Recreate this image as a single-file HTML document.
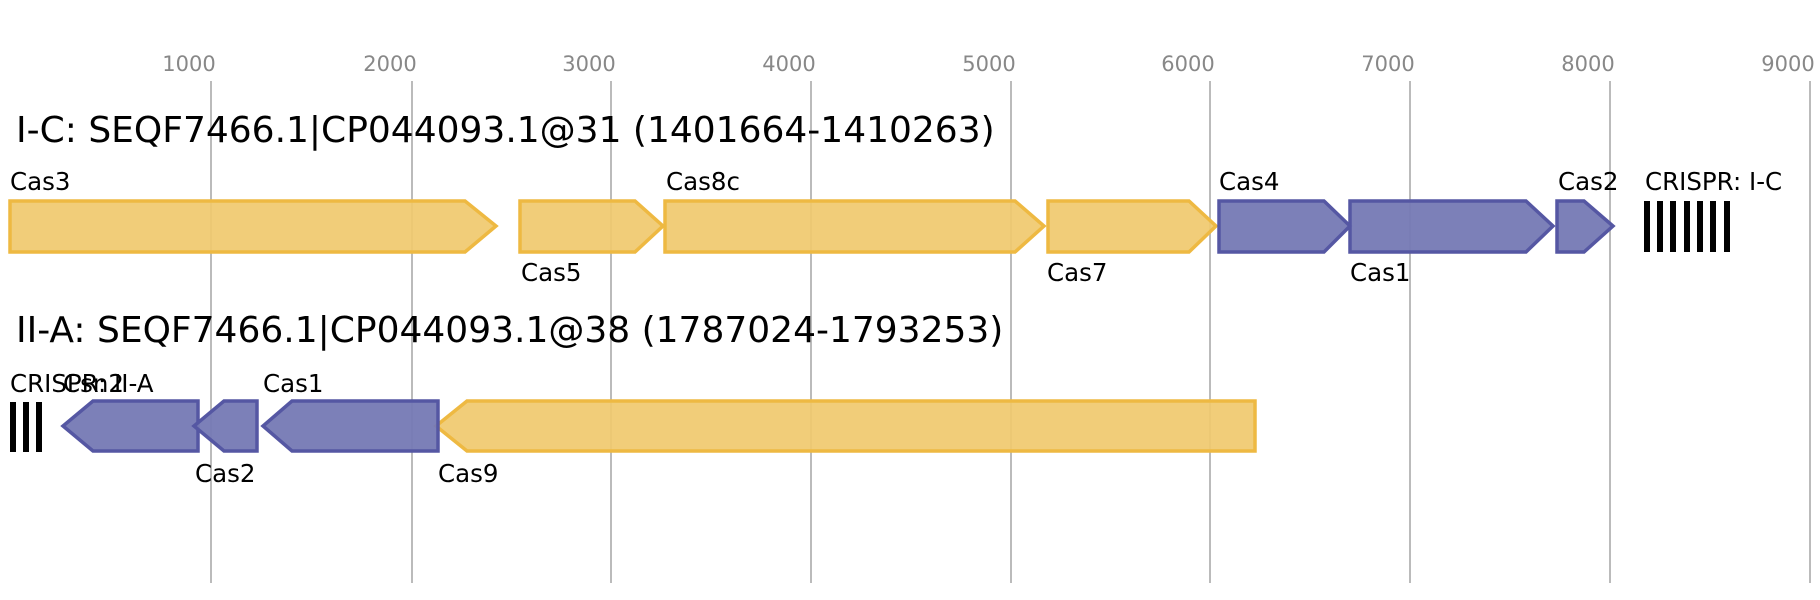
<!DOCTYPE html>
<html><head><style>body{margin:0;background:#fff}svg{display:block}text{font-family:"DejaVu Sans","Liberation Sans",sans-serif}</style></head><body>
<svg width="1820" height="600" xmlns="http://www.w3.org/2000/svg">
<g stroke="#bbb" stroke-width="2">
<line x1="211" y1="81" x2="211" y2="583"/><line x1="412" y1="81" x2="412" y2="583"/><line x1="611" y1="81" x2="611" y2="583"/><line x1="811" y1="81" x2="811" y2="583"/><line x1="1011" y1="81" x2="1011" y2="583"/><line x1="1210" y1="81" x2="1210" y2="583"/><line x1="1410" y1="81" x2="1410" y2="583"/><line x1="1610" y1="81" x2="1610" y2="583"/><line x1="1810" y1="81" x2="1810" y2="583"/>
</g>
<g fill="#888" font-size="21" text-anchor="middle">
<text x="189" y="71">1000</text><text x="390" y="71">2000</text><text x="589" y="71">3000</text><text x="789" y="71">4000</text><text x="989" y="71">5000</text><text x="1188" y="71">6000</text><text x="1388" y="71">7000</text><text x="1588" y="71">8000</text><text x="1788" y="71">9000</text>
</g>
<text x="16" y="142" font-size="36">I-C: SEQF7466.1|CP044093.1@31 (1401664-1410263)</text>
<text x="16" y="342" font-size="36">II-A: SEQF7466.1|CP044093.1@38 (1787024-1793253)</text>
<g stroke-width="3.5">
<g fill="#f0c96e" stroke="#eeb942" fill-opacity="0.92">
<polygon points="10,201 465,201 496,226 465,252 10,252"/>
<polygon points="520,201 635,201 663,226 635,252 520,252"/>
<polygon points="665,201 1015,201 1044,226 1015,252 665,252"/>
<polygon points="1048,201 1189,201 1216,226 1189,252 1048,252"/>
<polygon points="1255,401 467,401 436,426 467,451 1255,451"/>
</g>
<g fill="#7579b4" stroke="#5557a3" fill-opacity="0.95">
<polygon points="1219,201 1324,201 1350,226 1324,252 1219,252"/>
<polygon points="1350,201 1526,201 1553,226 1526,252 1350,252"/>
<polygon points="1557,201 1584,201 1613,226 1584,252 1557,252"/>
<polygon points="198,401 93,401 63,426 93,451 198,451"/>
<polygon points="257,401 224,401 194,426 224,451 257,451"/>
<polygon points="438,401 292,401 263,426 292,451 438,451"/>
</g>
</g>
<g fill="#000">
<rect x="1644" y="201" width="6" height="51"/><rect x="1657" y="201" width="6" height="51"/><rect x="1670" y="201" width="6" height="51"/><rect x="1684" y="201" width="6" height="51"/><rect x="1697" y="201" width="6" height="51"/><rect x="1710" y="201" width="6" height="51"/><rect x="1724" y="201" width="6" height="51"/>
<rect x="10" y="402" width="6" height="50"/><rect x="23" y="402" width="6" height="50"/><rect x="36" y="402" width="6" height="50"/>
</g>
<g font-size="24.5">
<text x="10" y="190">Cas3</text><text x="521" y="281">Cas5</text><text x="666" y="190">Cas8c</text><text x="1047" y="281">Cas7</text><text x="1219" y="190">Cas4</text><text x="1350" y="281">Cas1</text><text x="1558" y="190">Cas2</text><text x="1645" y="190">CRISPR: I-C</text>
<text x="10" y="392">CRISPR: II-A</text><text x="63" y="392">Csn2</text><text x="195" y="482">Cas2</text><text x="263" y="392">Cas1</text><text x="438" y="482">Cas9</text>
</g>
</svg>
</body></html>
